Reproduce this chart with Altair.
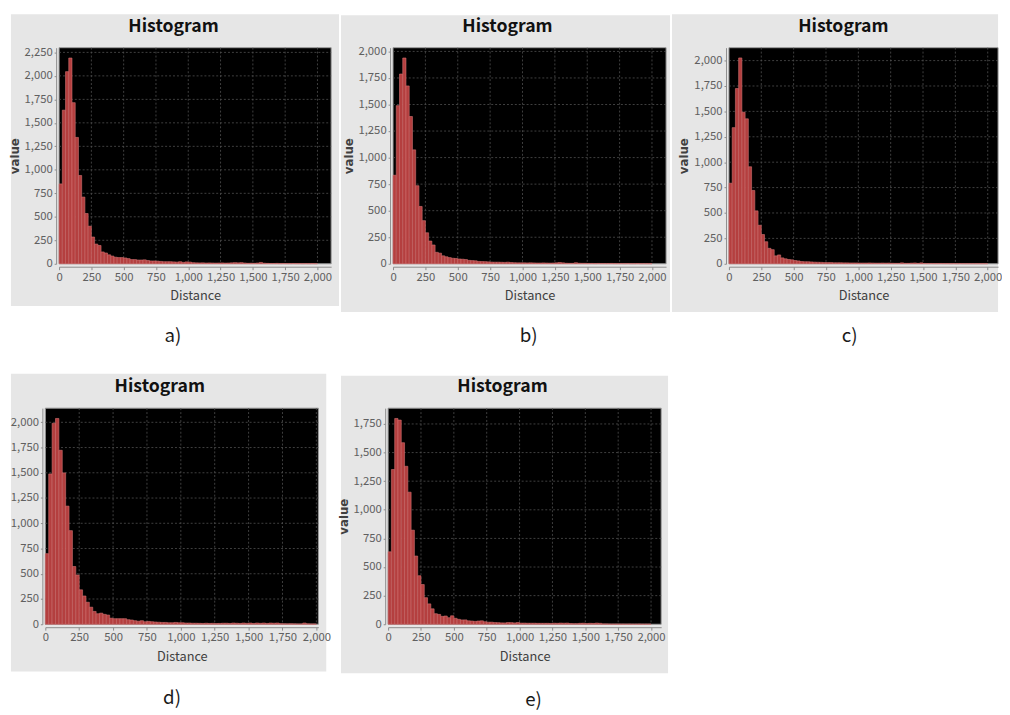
import altair as alt
import pandas as pd

# ---------------- data ----------------
BIN_WIDTH = 25  # histogram bin width (Distance units)

counts_a = [850, 1635, 2045, 2190, 1715, 1345, 940, 710, 535, 400,
            285, 210, 195, 126, 115, 95, 82, 70, 66, 66,
            62, 55, 45, 45, 40, 40, 42, 35, 30, 30,
            28, 25, 22, 22, 22, 20, 18, 22, 15, 20,
            18, 12, 10, 9, 10, 8, 9, 8, 7, 8,
            9, 7, 8, 10, 12, 10, 12, 8, 5, 6,
            5, 8, 14, 6, 4, 3, 3, 4, 2, 3,
            2, 2, 3, 2, 2, 1, 2, 1, 2, 1]

counts_b = [834, 1489, 1787, 1938, 1675, 1387, 1073, 735, 540, 406,
            292, 214, 177, 108, 100, 75, 66, 58, 52, 50,
            45, 43, 40, 32, 30, 28, 22, 21, 20, 18,
            16, 15, 15, 14, 13, 15, 12, 10, 9, 9,
            9, 8, 9, 8, 7, 7, 8, 7, 6, 7,
            9, 12, 9, 5, 4, 4, 10, 5, 4, 4,
            3, 3, 2, 3, 2, 2, 2, 3, 2, 2,
            2, 1, 2, 1, 1, 2, 1, 1, 1, 1]

counts_c = [793, 1340, 1725, 2026, 1492, 1427, 955, 722, 521, 379,
            288, 217, 152, 139, 78, 87, 58, 49, 42, 39,
            32, 28, 22, 20, 20, 18, 16, 15, 14, 12,
            12, 12, 10, 10, 10, 9, 9, 8, 8, 8,
            7, 7, 7, 8, 7, 6, 6, 7, 6, 7,
            5, 4, 4, 9, 4, 4, 6, 8, 4, 9,
            3, 2, 3, 2, 2, 3, 2, 2, 1, 2,
            1, 2, 1, 1, 1, 1, 1, 1, 1, 1]

counts_d = [699, 1489, 1990, 2038, 1723, 1499, 1170, 927, 572, 488,
            341, 280, 218, 169, 127, 104, 110, 98, 91, 60,
            55, 55, 55, 55, 45, 42, 35, 30, 35, 25,
            28, 25, 22, 20, 18, 18, 15, 15, 18, 15,
            15, 12, 12, 10, 10, 9, 8, 10, 8, 9,
            7, 8, 10, 10, 8, 12, 10, 8, 12, 9,
            12, 8, 12, 9, 12, 8, 12, 10, 12, 6,
            5, 4, 5, 4, 3, 3, 12, 4, 3, 3]

counts_e = [633, 1352, 1798, 1784, 1586, 1380, 1154, 822, 596, 424,
            347, 232, 178, 135, 92, 86, 69, 72, 57, 74,
            52, 43, 38, 38, 30, 28, 25, 28, 30, 22,
            18, 18, 15, 14, 12, 12, 15, 14, 12, 15,
            10, 10, 9, 9, 9, 8, 8, 8, 8, 7,
            9, 8, 10, 9, 10, 6, 5, 5, 8, 9,
            6, 8, 7, 10, 8, 3, 3, 2, 2, 2,
            2, 2, 1, 2, 1, 1, 2, 1, 1, 1]

x_ticks = [0, 250, 500, 750, 1000, 1250, 1500, 1750, 2000]
y_ticks_2250 = [0, 250, 500, 750, 1000, 1250, 1500, 1750, 2000, 2250]
y_ticks_2000 = [0, 250, 500, 750, 1000, 1250, 1500, 1750, 2000]
y_ticks_1750 = [0, 250, 500, 750, 1000, 1250, 1500, 1750]

panel_labels = ["a)", "b)", "c)", "d)", "e)"]
chart_title = "Histogram"
x_title = "Distance"
y_title = "value"

# axis upper limits (auto range incl. margins)
x_max = [2106, 2109, 2080, 2015, 2077]
y_max = [2300, 2035, 2127, 2140, 1888]

# ---------------- style ----------------
FONT = "Noto Sans CJK SC"
PANEL_GRAY = "#e6e6e6"
BAR_FILL = "#b43f3f"
BAR_EDGE = "#d27272"
GRID = "#505050"

one_row = pd.DataFrame({"k": [0]})


def panel(counts, xmax, ymax, yticks, label, geo, show_ytitle=True, xo=0):
    """xo: horizontal shift of the plot area inside the view."""
    W, H, L, R, T, B, spacer, label_x, label_dy = geo
    df = pd.DataFrame({
        "start": [i * BIN_WIDTH for i in range(len(counts))],
        "end": [(i + 1) * BIN_WIDTH for i in range(len(counts))],
        "count": counts,
    })
    xs = alt.Scale(domain=[0, xmax], range=[xo, xo + W], nice=False, zero=False)
    ys = alt.Scale(domain=[0, ymax], nice=False, zero=False)

    x_axis = alt.Axis(values=x_ticks, format=",d", title=x_title,
                      titleFont=FONT, titleFontSize=13, titleFontWeight="normal",
                      titleColor="#404040", titlePadding=7,
                      labelFont=FONT, labelFontSize=11.5, labelColor="#606060",
                      labelPadding=2, labelFlush=False, labelOverlap=False,
                      domainColor="#8c8c8c", tickColor="#8c8c8c", tickSize=3,
                      offset=3, grid=False, zindex=1)
    y_kwargs = dict(values=yticks, format=",d",
                    labelFont=FONT, labelFontSize=11.5, labelColor="#606060",
                    labelPadding=2, labelOverlap=False,
                    domainColor="#8c8c8c", tickColor="#8c8c8c", tickSize=2,
                    offset=3 - xo, grid=False, zindex=1)
    if show_ytitle:
        y_axis = alt.Axis(title=y_title, titleFont="DejaVu Sans", titleFontSize=12,
                          titleFontWeight="bold", titleColor="#404040", titlePadding=3,
                          **y_kwargs)
    else:
        y_axis = alt.Axis(title=None, **y_kwargs)

    bg = alt.Chart(one_row).mark_rect(fill=PANEL_GRAY, clip=False).encode(
        x=alt.value(xo - L), x2=alt.value(xo + W + R), y=alt.value(-T), y2=alt.value(H + B))
    spacer_mark = alt.Chart(one_row).mark_rect(opacity=0, clip=False).encode(
        x=alt.value(xo), x2=alt.value(xo + 1), y=alt.value(-spacer), y2=alt.value(-spacer + 1))
    plot_bg = alt.Chart(one_row).mark_rect(fill="black", stroke="#9a9a9a", strokeWidth=1).encode(
        x=alt.value(xo), x2=alt.value(xo + W), y=alt.value(0), y2=alt.value(H))
    gx = alt.Chart(pd.DataFrame({"g": x_ticks[1:]})).mark_rule(
        color=GRID, strokeDash=[2, 2], strokeWidth=0.8).encode(
        x=alt.X("g:Q", scale=xs, axis=x_axis))
    gy = alt.Chart(pd.DataFrame({"g": yticks[1:]})).mark_rule(
        color=GRID, strokeDash=[2, 2], strokeWidth=0.8).encode(
        y=alt.Y("g:Q", scale=ys, axis=y_axis),
        x=alt.value(xo), x2=alt.value(xo + W))

    bars = alt.Chart(df).mark_bar(fill=BAR_FILL, stroke=BAR_EDGE, strokeWidth=0.6).encode(
        x=alt.X("start:Q", scale=xs, axis=x_axis),
        x2="end:Q",
        y=alt.Y("count:Q", scale=ys, axis=y_axis),
        y2=alt.datum(0),
    )
    title = alt.Chart(one_row).mark_text(
        text=chart_title, font=FONT, fontSize=18, fontWeight="bold",
        color="#111111", align="center", baseline="middle", clip=False).encode(
        x=alt.value(xo + 116.5), y=alt.value(-21))
    lab = alt.Chart(one_row).mark_text(
        text=label, font=FONT, fontSize=19, color="#1a1a1a",
        align="center", baseline="middle", clip=False).encode(
        x=alt.value(xo + label_x), y=alt.value(H + label_dy))

    return alt.layer(bg, spacer_mark, plot_bg, gx, gy, bars, title, lab).properties(
        width=xo + W, height=H)


# geometry per panel: W, H, L, R, T, B, spacer-top, label x, label dy
pa = panel(counts_a, x_max[0], y_max[0], y_ticks_2250, panel_labels[0],
           (277, 220, 49, 8, 34, 43, 34, 116, 74), xo=14)
pb = panel(counts_b, x_max[1], y_max[1], y_ticks_2000, panel_labels[1],
           (278, 220, 53, 4, 33, 49, 34, 138, 74))
pc = panel(counts_c, x_max[2], y_max[2], y_ticks_2000, panel_labels[2],
           (274, 220, 58, 0, 34, 49, 34, 123, 74))
pd_ = panel(counts_d, x_max[3], y_max[3], y_ticks_2000, panel_labels[3],
            (278, 220, 35, 8, 35, 48, 35, 129, 75), show_ytitle=False)
pe = panel(counts_e, x_max[4], y_max[4], y_ticks_1750, panel_labels[4],
           (278, 220, 48, 7, 33, 50, 33, 148, 77))

row1 = alt.hconcat(pa, pb, pc, spacing=2)
row2 = alt.hconcat(pd_, pe, spacing=6)

chart = alt.concat(row1, row2, columns=1, align="none", spacing=28, padding=0).configure(
    background="white").configure_view(strokeWidth=0)

chart.save("out.html", embed_options={"renderer": "svg", "actions": False})
